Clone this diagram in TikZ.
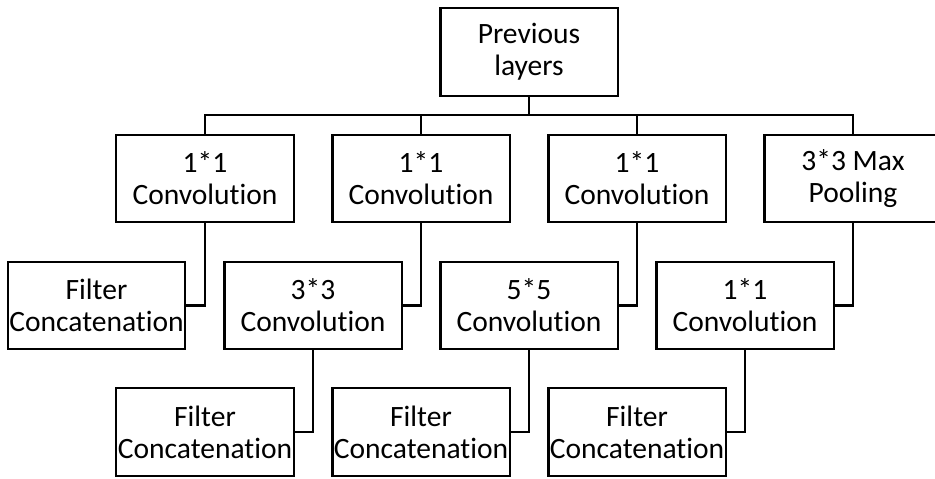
\documentclass[tikz,border=0pt]{standalone}
\usepackage{fontspec}
\setmainfont[Ligatures={NoCommon,NoContextual}]{Carlito}

\begin{document}
\begin{tikzpicture}[x=0.02cm, y=-0.02cm,
  box/.style={draw, line width=1.4pt, minimum width=3.55cm, minimum height=1.75cm,
    inner sep=0pt, align=center, font=\fontsize{16.8}{18.2}\selectfont},
  link/.style={line width=1.4pt}]
\useasboundingbox (0,0) rectangle (935,479);
% input
\node[box] (prev) at (529,52) {Previous\\layers};
\coordinate (bus) at (529,115);
% first row
\node[box] (convA) at (205,178.5) {1*1\\Convolution};
\node[box] (convB) at (421,178.5) {1*1\\Convolution};
\node[box] (convC) at (637,178.5) {1*1\\Convolution};
\node[box] (pool)  at (853,178.5) {3*3 Max\\Pooling};
% second row
\node[box] (concatA) at (96.5,305.5) {Filter\\Concatenation};
\node[box] (conv3)   at (313,305.5)  {3*3\\Convolution};
\node[box] (conv5)   at (529,305.5)  {5*5\\Convolution};
\node[box] (convD)   at (745,305.5)  {1*1\\Convolution};
% third row
\node[box] (concatB) at (205,432) {Filter\\Concatenation};
\node[box] (concatC) at (421,432) {Filter\\Concatenation};
\node[box] (concatD) at (637,432) {Filter\\Concatenation};
% branches
\draw[link] (prev.south) -- (bus);
\draw[link] (convA.north) |- (bus) -| (pool.north);
\draw[link] (convB.north) -- (convB.north |- bus);
\draw[link] (convC.north) -- (convC.north |- bus);
% down to the next rows
\draw[link] (convA.south) |- (concatA.east);
\draw[link] (convB.south) |- (conv3.east);
\draw[link] (convC.south) |- (conv5.east);
\draw[link] (pool.south) |- (convD.east);
\draw[link] (conv3.south) |- (concatB.east);
\draw[link] (conv5.south) |- (concatC.east);
\draw[link] (convD.south) |- (concatD.east);
\end{tikzpicture}
\end{document}
